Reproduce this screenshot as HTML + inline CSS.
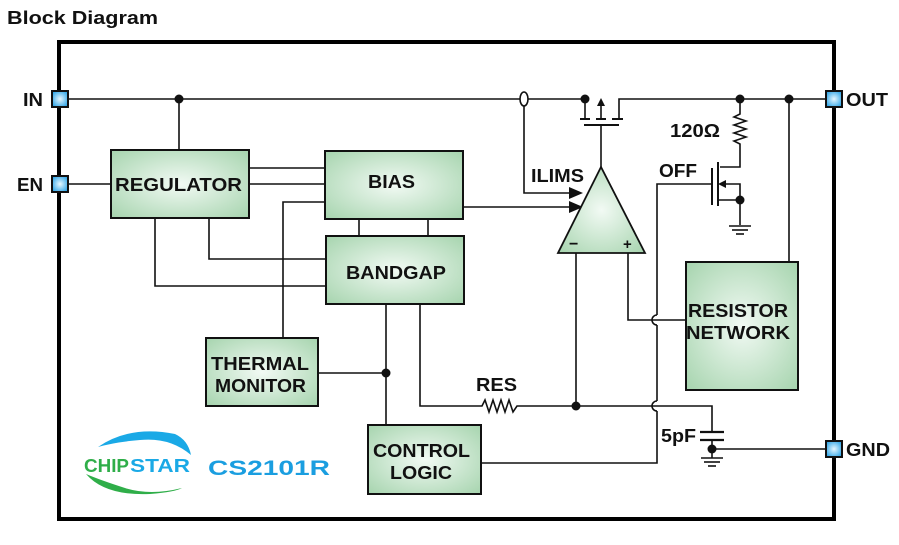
<!DOCTYPE html>
<html><head><meta charset="utf-8"><style>
html,body{margin:0;padding:0;background:#fff;width:899px;height:545px;overflow:hidden}
svg{display:block}
text{font-family:"Liberation Sans",Arial,sans-serif;font-weight:bold}
</style></head><body>
<svg width="899" height="545" viewBox="0 0 899 545" xmlns="http://www.w3.org/2000/svg">
<defs>
<radialGradient id="g" cx="50%" cy="50%" r="70%">
<stop offset="0" stop-color="#f2faf4"/><stop offset="1" stop-color="#a6d4ae"/></radialGradient>
<radialGradient id="pg" cx="50%" cy="50%" r="60%">
<stop offset="0" stop-color="#e8f8ff"/><stop offset="1" stop-color="#2ba3e6"/></radialGradient>
</defs>
<text x="7" y="24" font-size="18" fill="#111" textLength="151" lengthAdjust="spacingAndGlyphs">Block Diagram</text>
<rect x="59" y="42" width="775" height="477" fill="none" stroke="#000" stroke-width="4"/>

<g stroke="#111" stroke-width="1.6" fill="none">
<line x1="68" y1="99" x2="583" y2="99"/>
<line x1="179" y1="99" x2="179" y2="150"/>
<line x1="68" y1="184" x2="111" y2="184"/>
<line x1="249" y1="168" x2="325" y2="168"/>
<line x1="249" y1="184" x2="325" y2="184"/>
<polyline points="325,202 283,202 283,338"/>
<polyline points="155,218 155,286 326,286"/>
<polyline points="209,218 209,259 326,259"/>
<line x1="359" y1="219" x2="359" y2="236"/>
<line x1="428" y1="219" x2="428" y2="236"/>
<line x1="463" y1="207" x2="570" y2="207"/>
<line x1="318" y1="373" x2="386" y2="373"/>
<line x1="386" y1="304" x2="386" y2="425"/>
<polyline points="420,304 420,406 482,406 485,400 489,412 493,400 497,412 501,400 505,412 509,400 513,412 517,406 712,406 712,432"/>
<line x1="700" y1="432" x2="724" y2="432" stroke-width="2.2"/>
<line x1="700" y1="440" x2="724" y2="440" stroke-width="2.2"/>
<line x1="712" y1="440" x2="712" y2="458"/>
<line x1="712" y1="449" x2="826" y2="449"/>
<line x1="701" y1="458" x2="723" y2="458"/><line x1="704" y1="462" x2="720" y2="462"/><line x1="708" y1="466" x2="716" y2="466"/>
<polyline points="481,463 657,463 657,411"/>
<path d="M657,411 a5,5 0 0 1 0,-10"/>
<polyline points="657,401 657,325"/>
<path d="M657,325 a5,5 0 0 1 0,-10"/>
<polyline points="657,315 657,184 712,184"/>
<line x1="576" y1="253" x2="576" y2="406"/>
<polyline points="628,253 628,320 686,320"/>
<polyline points="524,105 524,193 570,193"/>
<ellipse cx="524" cy="99" rx="4" ry="7" fill="#fff"/>
<line x1="601" y1="167" x2="601" y2="125"/>
<line x1="584" y1="125" x2="619" y2="125" stroke-width="2"/>
<line x1="580" y1="119" x2="590" y2="119" stroke-width="2"/>
<line x1="596" y1="119" x2="606" y2="119" stroke-width="2"/>
<line x1="612" y1="119" x2="623" y2="119" stroke-width="2"/>
<line x1="585" y1="99" x2="585" y2="119"/>
<line x1="601" y1="104" x2="601" y2="119"/>
<polyline points="619,119 619,99 826,99"/>
<polyline points="740,99 740,114 734,117 746,121 734,125 746,129 734,133 746,137 734,141 740,144 740,167 720,167"/>
<line x1="712" y1="168" x2="712" y2="205" stroke-width="2"/>
<line x1="718" y1="162" x2="718" y2="206" stroke-width="2"/>
<polyline points="725,184 740,184 740,200 718,200"/>
<line x1="740" y1="200" x2="740" y2="225"/>
<line x1="729" y1="226" x2="751" y2="226"/><line x1="732" y1="230" x2="748" y2="230"/><line x1="736" y1="234" x2="744" y2="234"/>
<line x1="789" y1="99" x2="789" y2="262"/>
</g>
<polygon points="583,207 569,201 569,213" fill="#111"/>
<polygon points="583,193 569,187 569,199" fill="#111"/>
<polygon points="601,98 597,106 605,106" fill="#111"/>
<polygon points="718,184 726,180 726,188" fill="#111"/>
<g fill="#111">
<circle cx="179" cy="99" r="4.5"/><circle cx="585" cy="99" r="4.5"/><circle cx="740" cy="99" r="4.5"/>
<circle cx="789" cy="99" r="4.5"/><circle cx="740" cy="200" r="4.5"/><circle cx="386" cy="373" r="4.5"/>
<circle cx="576" cy="406" r="4.5"/><circle cx="712" cy="449" r="4.5"/>
</g>
<polygon points="601,167 558,253 645,253" fill="url(#g)" stroke="#111" stroke-width="1.8"/>
<text x="569" y="249" font-size="16" fill="#111">−</text>
<text x="623" y="249" font-size="15" fill="#111">+</text>
<g stroke="#111" stroke-width="2" fill="url(#g)">
<rect x="111" y="150" width="138" height="68"/>
<rect x="325" y="151" width="138" height="68"/>
<rect x="326" y="236" width="138" height="68"/>
<rect x="206" y="338" width="112" height="68"/>
<rect x="368" y="425" width="113" height="69"/>
<rect x="686" y="262" width="112" height="128"/>
</g>
<g font-size="18" fill="#111" lengthAdjust="spacingAndGlyphs">
<text x="115" y="191" textLength="127" lengthAdjust="spacingAndGlyphs">REGULATOR</text>
<text x="368" y="188" textLength="47" lengthAdjust="spacingAndGlyphs">BIAS</text>
<text x="346" y="279" textLength="100" lengthAdjust="spacingAndGlyphs">BANDGAP</text>
<text x="211" y="370" textLength="98" lengthAdjust="spacingAndGlyphs">THERMAL</text>
<text x="215" y="392" textLength="91" lengthAdjust="spacingAndGlyphs">MONITOR</text>
<text x="373" y="457" textLength="97" lengthAdjust="spacingAndGlyphs">CONTROL</text>
<text x="390" y="479" textLength="62" lengthAdjust="spacingAndGlyphs">LOGIC</text>
<text x="688" y="317" textLength="100" lengthAdjust="spacingAndGlyphs">RESISTOR</text>
<text x="686" y="339" textLength="104" lengthAdjust="spacingAndGlyphs">NETWORK</text>
<text x="531" y="182" textLength="53" lengthAdjust="spacingAndGlyphs">ILIMS</text>
<text x="659" y="177" textLength="38" lengthAdjust="spacingAndGlyphs">OFF</text>
<text x="670" y="137" textLength="50" lengthAdjust="spacingAndGlyphs">120Ω</text>
<text x="476" y="391" textLength="41" lengthAdjust="spacingAndGlyphs">RES</text>
<text x="661" y="442" textLength="35" lengthAdjust="spacingAndGlyphs">5pF</text>
<text x="23" y="106" textLength="20" lengthAdjust="spacingAndGlyphs">IN</text>
<text x="17" y="191" textLength="26" lengthAdjust="spacingAndGlyphs">EN</text>
<text x="846" y="106" textLength="42" lengthAdjust="spacingAndGlyphs">OUT</text>
<text x="846" y="456" textLength="44" lengthAdjust="spacingAndGlyphs">GND</text>
</g>
<g stroke="#111" stroke-width="2" fill="url(#pg)">
<rect x="52" y="91" width="16" height="16"/>
<rect x="52" y="176" width="16" height="16"/>
<rect x="826" y="91" width="16" height="16"/>
<rect x="826" y="441" width="16" height="16"/>
</g>
<path d="M98,447 Q130,425 175,434 Q188,440 191,455 Q170,437 140,440 Q115,442 98,447 Z" fill="#1aa9e6"/>
<path d="M86,474 Q105,496 150,494 Q175,492 182,488 Q150,496 125,488 Q100,480 86,474 Z" fill="#2fae49"/>
<text x="84" y="472" font-size="18" fill="#2fae49" textLength="45" lengthAdjust="spacingAndGlyphs">CHIP</text>
<text x="130" y="472" font-size="18" fill="#1aa9e6" textLength="60" lengthAdjust="spacingAndGlyphs">STAR</text>
<text x="208" y="475" font-size="21" fill="#1a9ee0" textLength="122" lengthAdjust="spacingAndGlyphs">CS2101R</text>
</svg>
</body></html>
